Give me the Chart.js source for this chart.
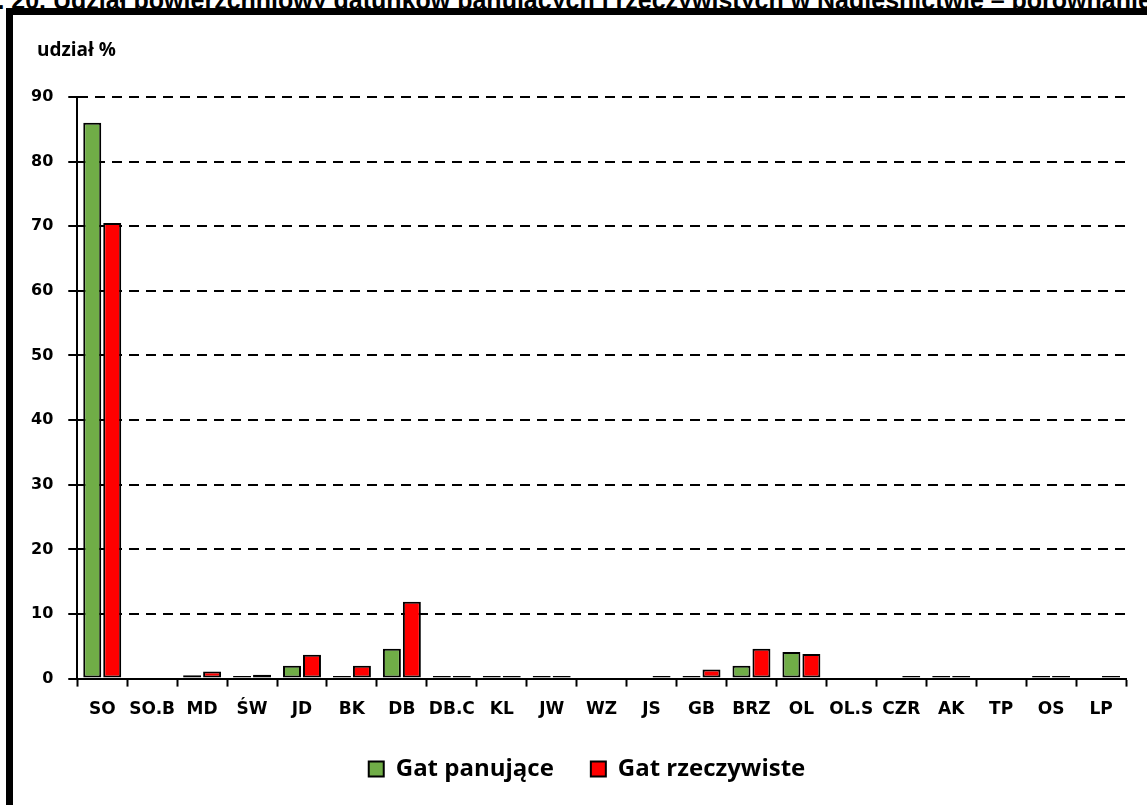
<!DOCTYPE html>
<html>
<head>
<meta charset="utf-8">
<script src="https://cdn.jsdelivr.net/npm/chart.js@4/dist/chart.umd.min.js"></script>
<style>
  body { margin: 0; background: #fff; width: 1147px; height: 805px; overflow: hidden; position: relative; }
  #title { position: absolute; left: 0; top: -14px; line-height: 24px; white-space: nowrap; font: bold 25px "Liberation Sans", Arial, sans-serif; color: #000; }
  #frame { position: absolute; left: 6px; top: 8px; width: 1300px; height: 900px; border-left: 7px solid #000; border-top: 7px solid #000; }
  #unit { position: absolute; left: 37px; top: 36px; font: bold 19px "Open Sans", sans-serif; color: #000; }
  #wrap { position: absolute; left: 13px; top: 15px; width: 1134px; height: 812px; }
</style>
</head>
<body>
<div id="title"><span id="pre">Rys. 20. </span>Udział powierzchniowy gatunków panujących i rzeczywistych w Nadleśnictwie – porównanie</div>
<div id="frame"></div>
<div id="wrap"><canvas id="myChart" width="1134" height="812"></canvas></div>
<div id="unit">udział %</div>
<script>
// gatunki
const species = ['SO', 'SO.B', 'MD', 'ŚW', 'JD', 'BK', 'DB', 'DB.C', 'KL', 'JW', 'WZ',
                 'JS', 'GB', 'BRZ', 'OL', 'OL.S', 'CZR', 'AK', 'TP', 'OS', 'LP'];
// udział % - gatunki panujące
const panujace = [86.0, 0, 0.5, 0.4, 2.0, 0.4, 4.6, 0.4, 0.4, 0.4, 0,
                  0, 0.4, 2.0, 4.1, 0, 0, 0.4, 0, 0.4, 0];
// udział % - gatunki rzeczywiste
const rzeczywiste = [70.5, 0, 1.1, 0.6, 3.7, 2.0, 11.9, 0.4, 0.4, 0.4, 0,
                     0.4, 1.4, 4.6, 3.8, 0, 0.4, 0.4, 0, 0.4, 0.4];
const yTicks = [0, 10, 20, 30, 40, 50, 60, 70, 80, 90];

// tytul - "Udział" zaczyna sie ok. x=53
const pre = document.querySelector('#pre');
document.querySelector('#title').style.left = (53 - pre.getBoundingClientRect().width) + 'px';

// legenda przesunieta (wykres w oryginale szerszy niz kadr)
const shiftLegend = {
    id: 'shiftLegend',
    afterLayout(chart) {
        chart.legend.left += 16;
        chart.legend.right += 16;
        chart.legend.top -= 13;
        chart.legend.bottom -= 13;
    }
};

const ctx = document.querySelector('#myChart').getContext('2d');
new Chart(ctx, {
    type: 'bar',
    data: {
        labels: species,
        datasets: [{
            label: 'Gat panujące',
            backgroundColor: '#70AD47',
            borderColor: '#000',
            borderWidth: 2,
            borderSkipped: false,
            data: panujace,
        }, {
            label: 'Gat rzeczywiste',
            backgroundColor: '#FF0000',
            borderColor: '#000',
            borderWidth: 2,
            borderSkipped: false,
            data: rzeczywiste,
        }]
    },
    plugins: [shiftLegend],
    options: {
        responsive: false,
        animation: false,
        categoryPercentage: 0.8,
        barPercentage: 0.9,
        layout: { padding: { left: 3, right: 21, top: 82, bottom: 23 } },
        plugins: {
            tooltip: { enabled: false },
            legend: {
                position: 'bottom',
                labels: {
                    color: '#000',
                    font: { family: 'Open Sans', weight: 'bold', size: 24 },
                    boxWidth: 15,
                    boxHeight: 15,
                    padding: 37,
                }
            }
        },
        scales: {
            x: {
                grid: { drawOnChartArea: false, offset: true, tickLength: 8, tickColor: '#000', tickWidth: 2 },
                border: { color: '#000', width: 2 },
                ticks: { color: '#000', padding: 13, maxRotation: 0, autoSkip: false,
                         font: { family: 'DejaVu Sans', weight: 'bold', size: 17 } }
            },
            y: {
                min: 0,
                max: 90,
                afterBuildTicks: (axis) => { axis.ticks = yTicks.map(v => ({ value: v })); },
                grid: {
                    color: (c) => c.tick && c.tick.value === 0 ? 'transparent' : '#000',
                    lineWidth: 2,
                    tickLength: 9,
                    tickColor: '#000',
                    tickBorderDash: [],
                    tickWidth: 2,
                },
                border: { color: '#000', width: 2, dash: [10, 7] },
                ticks: { color: '#000', padding: 15,
                         font: { family: 'DejaVu Sans', weight: 'bold', size: 16 } }
            }
        }
    }
});
</script>
</body>
</html>
